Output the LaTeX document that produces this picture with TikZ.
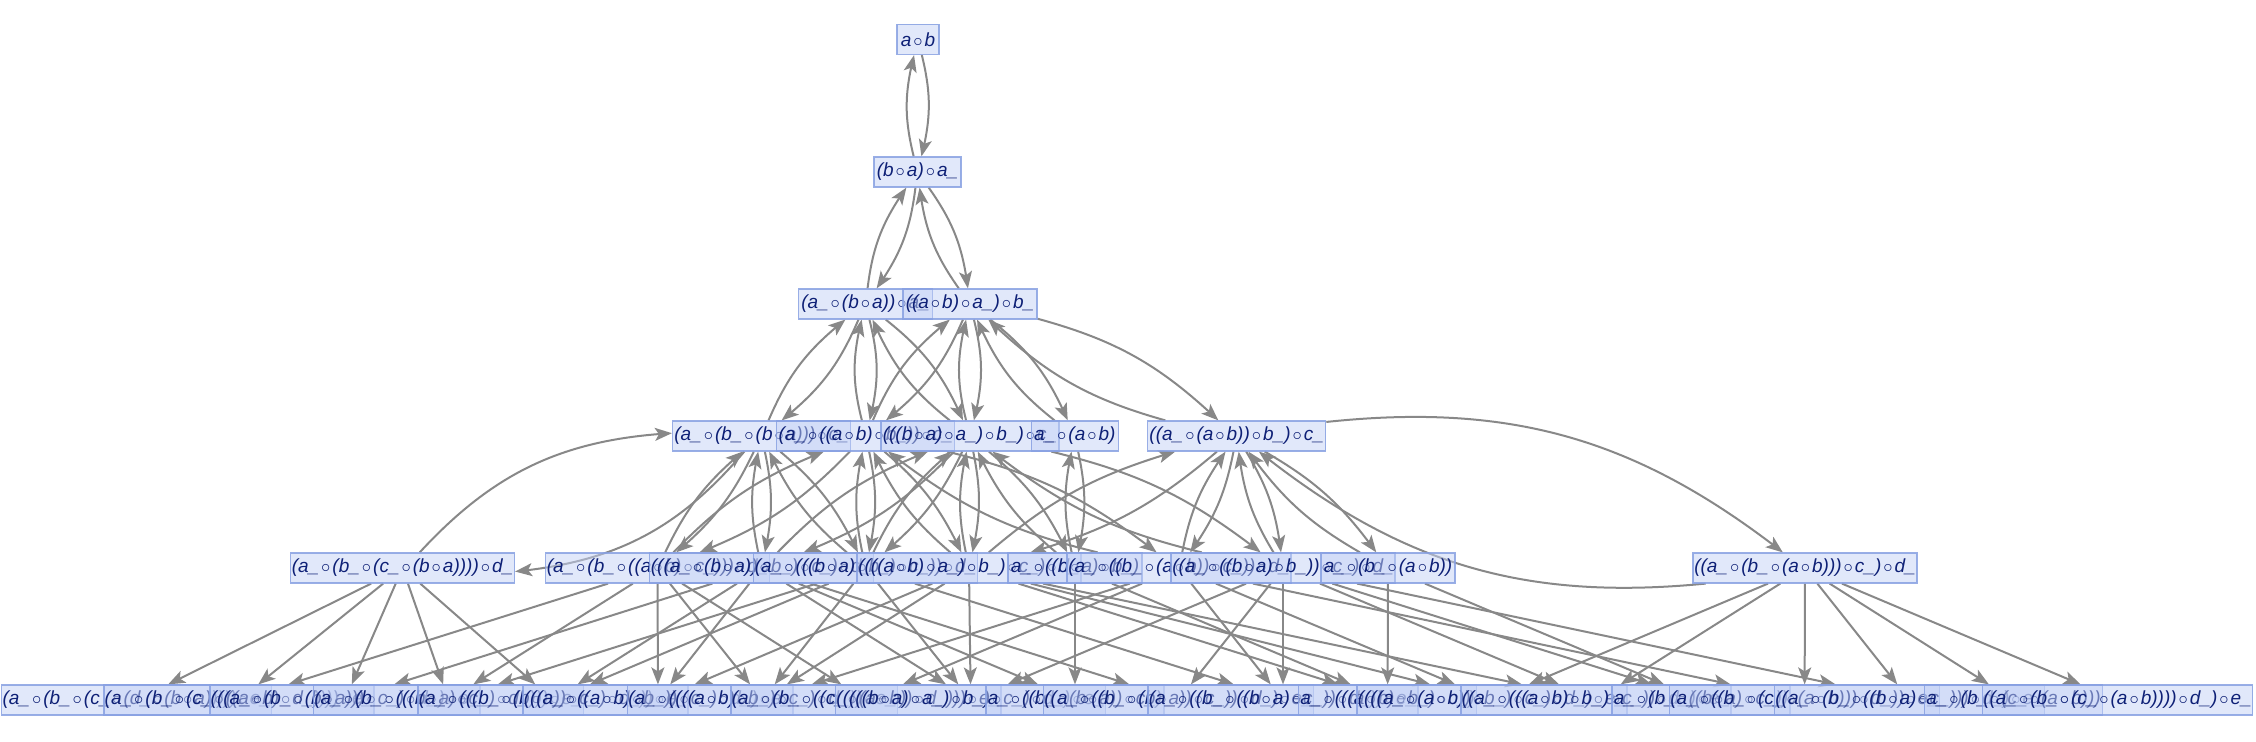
\documentclass[tikz,border=0pt]{standalone}
\usepackage{fontspec}
\setmainfont{Liberation Sans}
\usetikzlibrary{arrows.meta,bending}
\definecolor{boxfill}{RGB}{196,210,246}
\definecolor{boxdraw}{RGB}{135,160,226}
\definecolor{txtc}{RGB}{14,32,118}
\definecolor{edgec}{RGB}{136,136,136}
\newcommand{\oo}{\kern1pt$\circ$\kern1pt}
\pgfdeclarelayer{edgelayer}
\pgfsetlayers{edgelayer,main}
\tikzset{
  st/.style={draw=boxdraw, fill=boxfill, fill opacity=0.5, draw opacity=0.85, text opacity=1,
    text=txtc, font=\fontsize{9.5}{11}\selectfont\itshape, inner sep=0pt, minimum height=15pt, line width=0.6pt},
  wa/.style={st, minimum width=21pt},
  wb/.style={st, minimum width=43.5pt},
  wc/.style={st, minimum width=67pt},
  wd/.style={st, minimum width=89pt},
  we/.style={st, minimum width=112pt},
  wf/.style={st, minimum width=135pt},
  ed/.style={draw=edgec, line width=1pt, -{Stealth[length=8.5pt,width=6.5pt,inset=2pt]}}
}
\begin{document}
\begin{tikzpicture}[x=0.5pt,y=-0.5pt]
\useasboundingbox (0,0) rectangle (2256,742);
% level 0-2
\node[wa] (n0) at (918,39.5) {a\oo b};
\node[wb] (n1) at (917.5,172) {(b\oo a)\oo a\_};
\node[wc] (P) at (865.5,304) {(a\_\oo(b\oo a))\oo a\_};
\node[wc] (Q) at (970,304) {((a\oo b)\oo a\_)\oo b\_};
% level 3
\node[wd] (A) at (761.5,436) {(a\_\oo(b\_\oo(b\oo a)))\oo c\_};
\node[wd] (B) at (865.8,436) {(a\_\oo((a\oo b)\oo b\_))\oo c\_};
\node[wd] (C) at (970,436) {(((b\oo a)\oo a\_)\oo b\_)\oo c\_};
\node[wb] (D) at (1074.8,436) {a\_\oo(a\oo b)};
\node[wd] (E) at (1236.7,436) {((a\_\oo(a\oo b))\oo b\_)\oo c\_};
% level 4
\node[we] (L) at (402.5,568) {(a\_\oo(b\_\oo(c\_\oo(b\oo a))))\oo d\_};
\node[we] (M1) at (657.5,568) {(a\_\oo(b\_\oo((a\oo b)\oo c\_)))\oo d\_};
\node[we] (M2) at (761.6,568) {(((a\_\oo(b\oo a))\oo b\_)\oo c\_)\oo d\_};
\node[we] (M3) at (865.6,568) {(a\_\oo(((b\oo a)\oo b\_)\oo c\_))\oo d\_};
\node[we] (M4) at (969,568) {((((a\oo b)\oo a\_)\oo b\_)\oo c\_)\oo d\_};
\node[wc] (M5) at (1075,568) {a\_\oo((b\oo a)\oo b\_)};
\node[we] (M6) at (1179,568) {(a\_\oo((b\_\oo(a\oo b))\oo c\_))\oo d\_};
\node[we] (M7) at (1283,568) {((a\_\oo((b\oo a)\oo b\_))\oo c\_)\oo d\_};
\node[wc] (M8) at (1388,568) {a\_\oo(b\_\oo(a\oo b))};
\node[we] (Rt) at (1805,568) {((a\_\oo(b\_\oo(a\oo b)))\oo c\_)\oo d\_};
% level 5
\node[wf] (Fa) at (136.8,700) {(a\_\oo(b\_\oo(c\_\oo(d\_\oo(b\oo a)))))\oo e\_};
\node[wf] (Fe) at (239,700) {(a\_\oo(b\_\oo(c\_\oo((a\oo b)\oo d\_))))\oo e\_};
\node[wf] (Fb) at (345,700) {(((a\_\oo(b\_\oo(b\oo a)))\oo c\_)\oo d\_)\oo e\_};
\node[wf] (Fd) at (448.6,700) {(a\_\oo(b\_\oo(((b\oo a)\oo c\_)\oo d\_)))\oo e\_};
\node[wf] (Fc) at (553,700) {(a\_\oo(((b\_\oo(b\oo a))\oo c\_)\oo d\_))\oo e\_};
\node[wf] (Ff) at (658,700) {(((a\_\oo((a\oo b)\oo b\_))\oo c\_)\oo d\_)\oo e\_};
\node[wf] (Fg) at (762.5,700) {(a\_\oo((((a\oo b)\oo b\_)\oo c\_)\oo d\_))\oo e\_};
\node[wf] (Fh) at (866,700) {(a\_\oo(b\_\oo((c\_\oo(a\oo b))\oo d\_)))\oo e\_};
\node[wf] (Fj) at (970.7,700) {(((((b\oo a)\oo a\_)\oo b\_)\oo c\_)\oo d\_)\oo e\_};
\node[wd] (Fq) at (1075,700) {a\_\oo((b\_\oo(b\oo a))\oo c\_)};
\node[wf] (Fi) at (1178.6,700) {((a\_\oo((b\_\oo(b\oo a))\oo c\_))\oo d\_)\oo e\_};
\node[wf] (Fk) at (1283,700) {(a\_\oo((b\_\oo((b\oo a)\oo c\_))\oo d\_))\oo e\_};
\node[wd] (Fr) at (1387.6,700) {a\_\oo(((a\oo b)\oo b\_)\oo c\_)};
\node[wf] (Fm) at (1492,700) {((((a\_\oo(a\oo b))\oo b\_)\oo c\_)\oo d\_)\oo e\_};
\node[wf] (Fl) at (1596,700) {((a\_\oo(((a\oo b)\oo b\_)\oo c\_))\oo d\_)\oo e\_};
\node[wd] (Fs) at (1701,700) {a\_\oo(b\_\oo((b\oo a)\oo c\_))};
\node[wf] (Fn) at (1804.6,700) {(a\_\oo((b\_\oo(c\_\oo(a\oo b)))\oo d\_))\oo e\_};
\node[wf] (Fo) at (1909.6,700) {((a\_\oo(b\_\oo((b\oo a)\oo c\_)))\oo d\_)\oo e\_};
\node[wd] (Ft) at (2013.5,700) {a\_\oo(b\_\oo(c\_\oo(a\oo b)))};
\node[wf] (Fp) at (2117.5,700) {((a\_\oo(b\_\oo(c\_\oo(a\oo b))))\oo d\_)\oo e\_};

\begin{pgfonlayer}{edgelayer}
\foreach \u/\v/\b in {n0/n1/14, n1/P/14, n1/Q/14, P/A/14, P/B/14, P/C/14, Q/B/14, Q/C/14, Q/D/14, Q/E/14,
  A/L/22, A/M1/12, A/M2/12, A/M3/12, B/M1/12, B/M3/12, B/M4/12, B/M6/12, C/M2/12, C/M3/12, C/M4/12,
  C/M5/12, C/M7/12, D/M5/12, E/M4/12, E/M6/12, E/M7/12, E/M8/12, E/Rt/22} {
  \draw[ed] (\u) to[bend left=\b] (\v);
  \draw[ed] (\v) to[bend left=\b] (\u);
}
\foreach \u/\v in {L/Fa, L/Fb, L/Fc, L/Fd, L/Fe,
  M1/Fe, M1/Ff, M1/Fg, M1/Fh, M1/Fd,
  M2/Fc, M2/Fi, M2/Fb, M2/Fj, M2/Ff, M2/Fq,
  M3/Fd, M3/Fj, M3/Fk, M3/Fc, M3/Fg,
  M4/Fg, M4/Fl, M4/Ff, M4/Fm, M4/Fj, M4/Fr,
  M5/Fq, M5/Fr,
  M6/Fh, M6/Fm, M6/Fn, M6/Fg, M6/Fk,
  M7/Fk, M7/Fo, M7/Fj, M7/Fi, M7/Fl, M7/Fs,
  M8/Fr, M8/Fs,
  Rt/Fn, Rt/Fp, Rt/Fm, Rt/Fl, Rt/Fo, Rt/Ft} {
  \draw[ed] (\u) -- (\v);
}
\end{pgfonlayer}
\end{tikzpicture}
\end{document}
